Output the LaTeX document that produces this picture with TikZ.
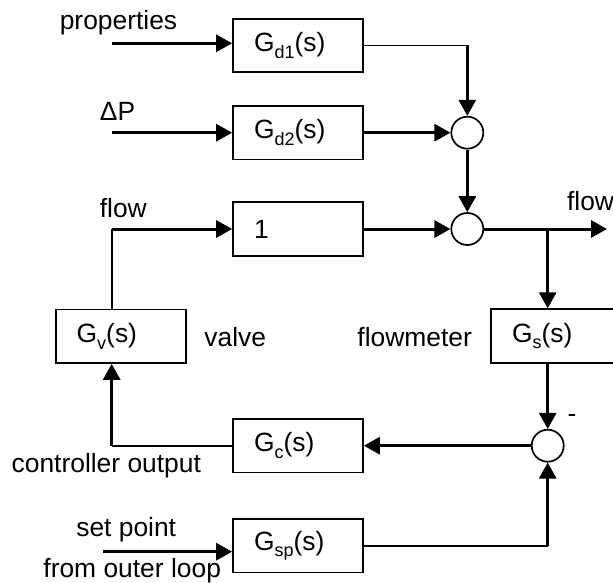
\documentclass[tikz,border=0pt]{standalone}
\usepackage{fontspec}
\setmainfont{Liberation Sans}
\usetikzlibrary{arrows.meta}
\newcommand{\sbs}[1]{\raisebox{-3.3pt}{\fontsize{9}{10}\selectfont #1}}
\begin{document}
\begin{tikzpicture}[x=0.5pt,y=-0.5pt,
  every node/.style={font=\fontsize{13.2}{15}\selectfont, inner sep=0pt},
  blk/.style={draw, line width=0.85pt, minimum width=65pt, minimum height=26.8pt,
    text width=44pt, inner xsep=10.5pt, align=left},
  sumc/.style={draw, circle, line width=0.85pt, minimum size=16pt},
  arr/.style={line width=1.5pt, -{Triangle[length=8pt,width=8.5pt]}},
  thn/.style={line width=0.8pt},
  lbl/.style={anchor=center}]
\useasboundingbox (0,0) rectangle (613,582);
\clip (0,0) rectangle (613,582);
% blocks
\node[blk] (gd1) at (298,45.5) {G\sbs{d1}(s)};
\node[blk] (gd2) at (298,132.7) {G\sbs{d2}(s)};
\node[blk] (one) at (298,229) {1};
\node[blk] (gv) at (120.7,336.2) {G\sbs{v}(s)};
\node[blk] (gs) at (556,336) {G\sbs{s}(s)};
\node[blk] (gc) at (298,445.7) {G\sbs{c}(s)};
\node[blk] (gsp) at (298,545.7) {G\sbs{sp}(s)};
% summing junctions
\node[sumc] (s1) at (467.3,132.7) {};
\node[sumc] (s2) at (467.3,229) {};
\node[sumc] (s3) at (547.7,445.7) {};
% labels
\node[lbl] (lprop) at (118.5,23) {properties};
\node[lbl] (ldp) at (117.5,111) {ΔP};
\node[lbl] (lflow1) at (123.3,208.5) {flow};
\node[lbl, anchor=west] (lflow2) at (566.7,201) {flow};
\node[lbl, anchor=west] (lvalve) at (204,336.7) {valve};
\node[lbl, anchor=east] (lfm) at (472.3,336.7) {flowmeter};
\node[lbl] (lco) at (106.3,465.7) {controller output};
\node[lbl] (lsp) at (126.2,530) {set point};
\node[lbl] (lfol) at (132.2,571) {from outer loop};
\node[lbl] (lminus) at (572,418) {-};
% coordinates
\coordinate (pin) at (111.7,43.3);
\coordinate (dpin) at (111.7,132.7);
\coordinate (spin) at (103.3,551.7);
\coordinate (fout) at (607,229);
\coordinate (br) at (547.7,229);
\coordinate (vup) at (111.7,229);
\coordinate (cdn) at (111.7,445.7);
% connectors
\draw[arr] (pin) -- (pin -| gd1.west);
\draw[arr] (dpin) -- (dpin -| gd2.west);
\draw[thn] (gd1.east) -- (gd1.east -| s1.center);
\draw[arr] (gd1.east -| s1.center) -- (s1.north);
\draw[arr] (gd2.east) -- (s1.west);
\draw[arr] (s1.south) -- (s2.north);
\draw[arr] (one.east) -- (s2.west);
\draw[arr] (s2.east) -- (fout);
\draw[arr] (br) -- (gs.north -| br);
\draw[arr] (gs.south -| br) -- (s3.north);
\draw[arr] (s3.west) -- (gc.east);
\draw[thn] (gc.west) -- (cdn);
\draw[arr] (cdn) -- (gv.south -| cdn);
\draw[thn] (gv.north -| vup) -- (vup);
\draw[arr] (vup) -- (one.west);
\draw[arr] (spin) -- (spin -| gsp.west);
\draw[thn] (gsp.east) -- (gsp.east -| s3.center);
\draw[arr] (gsp.east -| s3.center) -- (s3.south);
\end{tikzpicture}
\end{document}
